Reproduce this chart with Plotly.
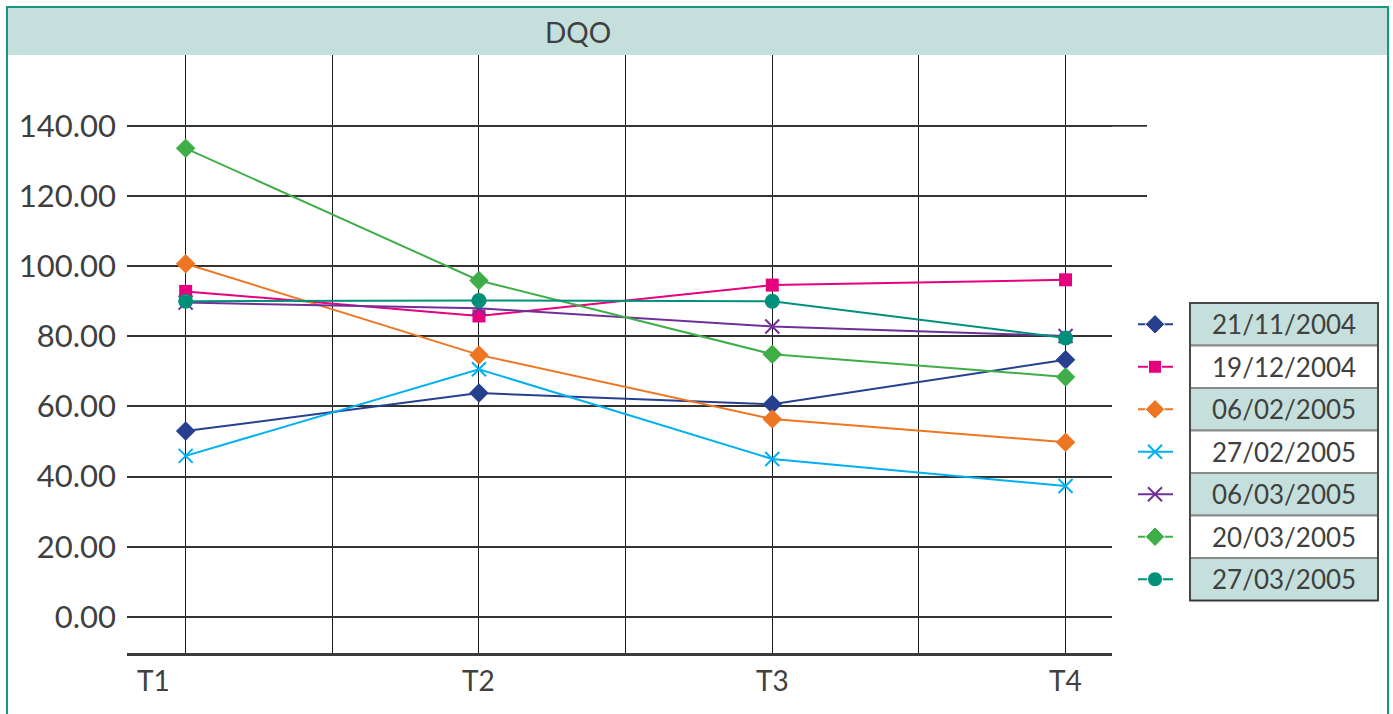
import plotly.graph_objects as go

categories = ["T1", "T2", "T3", "T4"]
series_names = ["21/11/2004", "19/12/2004", "06/02/2005", "27/02/2005",
                "06/03/2005", "20/03/2005", "27/03/2005"]
v_21_11_2004 = [53.0, 63.8, 60.6, 73.3]
v_19_12_2004 = [92.8, 85.8, 94.6, 96.1]
v_06_02_2005 = [100.7, 74.7, 56.4, 49.8]
v_27_02_2005 = [45.9, 70.6, 45.0, 37.3]
v_06_03_2005 = [89.6, 88.0, 82.8, 80.1]
v_20_03_2005 = [133.6, 95.9, 74.9, 68.4]
v_27_03_2005 = [90.0, 90.2, 90.0, 79.5]
series_values = [v_21_11_2004, v_19_12_2004, v_06_02_2005, v_27_02_2005,
                 v_06_03_2005, v_20_03_2005, v_27_03_2005]
y_ticks = [0, 20, 40, 60, 80, 100, 120, 140]
extended_grid = [120, 140]

colors = ["#26408f", "#e6007e", "#ee7623", "#00b0f0", "#70309a", "#3fae49", "#00907a"]
symbols = ["diamond", "square", "diamond", "x-thin", "x-thin", "diamond", "circle"]
msizes = [15, 13, 15, 14, 14, 15, 15]

W, H = 1393, 714
ML, MR, MT, MB = 127, 5, 55, 61
PW = W - ML - MR
PH = H - MT - MB


def px_x(p):
    return (p - ML) / PW


def px_y(p):
    return (H - MB - p) / PH


FONT = "Lato, 'Open Sans', sans-serif"
TXT = "#404040"

x_pos = list(range(len(categories)))
PX_PER_CAT = 293.3
x_start = -0.2
x_end = x_start + (1112 - ML) / PX_PER_CAT

fig = go.Figure()
for name, vals, c, s, ms in zip(series_names, series_values, colors, symbols, msizes):
    mk = dict(symbol=s, size=ms, color=c, opacity=1)
    if s.startswith("x"):
        mk["line"] = dict(color=c, width=2)
    fig.add_trace(go.Scatter(x=x_pos, y=vals, mode="lines+markers", name=name,
                             line=dict(color=c, width=2), marker=mk,
                             showlegend=False, xaxis="x", yaxis="y"))

# legend symbols on a pixel-like helper axis
row_top, row_h = 303, 42.5
leg_x0, leg_x1 = 1190, 1378
for i, (c, s, ms) in enumerate(zip(colors, symbols, msizes)):
    yc = row_top + row_h * (i + 0.5)
    mk = dict(symbol=s, size=[0, ms, 0], color=c, opacity=1)
    if s.startswith("x"):
        mk["line"] = dict(color=c, width=2)
    fig.add_trace(go.Scatter(x=[1138, 1155, 1173], y=[yc, yc, yc], mode="lines+markers",
                             line=dict(color=c, width=2), marker=mk,
                             showlegend=False, xaxis="x2", yaxis="y2", hoverinfo="skip"))

shapes = []
annotations = []
# outer frame and title band
shapes.append(dict(type="rect", xref="paper", yref="paper", x0=px_x(8), x1=px_x(1387),
                   y0=px_y(8), y1=px_y(55), fillcolor="#c5e0dc", line=dict(width=0), layer="below"))
shapes.append(dict(type="rect", xref="paper", yref="paper", x0=px_x(7), x1=px_x(1388),
                   y0=px_y(7), y1=px_y(725), fillcolor="rgba(0,0,0,0)",
                   line=dict(color="#14977f", width=2), layer="above"))
# top gridlines continuing past the plot area
for g in extended_grid:
    shapes.append(dict(type="line", xref="paper", yref="y", x0=px_x(1112), x1=px_x(1147),
                       y0=g, y1=g, line=dict(color="#333333", width=1.8), layer="below"))
# legend table
for i, name in enumerate(series_names):
    y0 = row_top + row_h * i
    shapes.append(dict(type="rect", xref="x2", yref="y2", x0=leg_x0, x1=leg_x1,
                       y0=y0, y1=y0 + row_h,
                       fillcolor="#c5e0dc" if i % 2 == 0 else "white",
                       line=dict(color="#8a8a8a", width=2), layer="above"))
    annotations.append(dict(xref="x2", yref="y2", x=(leg_x0 + leg_x1) / 2, y=y0 + row_h / 2,
                            text=name, showarrow=False, yanchor="middle", xanchor="center",
                            font=dict(family=FONT, size=26, color=TXT)))
shapes.append(dict(type="rect", xref="x2", yref="y2", x0=leg_x0, x1=leg_x1,
                   y0=row_top, y1=row_top + row_h * len(series_names),
                   fillcolor="rgba(0,0,0,0)", line=dict(color="#333333", width=1.5), layer="above"))

# title
annotations.append(dict(xref="paper", yref="paper", x=px_x(578), y=px_y(32), text="DQO",
                        showarrow=False, xanchor="center", yanchor="middle",
                        font=dict(family=FONT, size=28, color=TXT)))
# category labels
for i, cat in enumerate(categories):
    annotations.append(dict(xref="x", yref="paper", x=x_pos[i], y=0, yanchor="top",
                            yshift=-8, xshift=-32 if i == 0 else 0, text=cat, showarrow=False,
                            font=dict(family=FONT, size=28, color=TXT)))

fig.update_layout(
    width=W, height=H,
    margin=dict(l=ML, r=MR, t=MT, b=MB),
    paper_bgcolor="white", plot_bgcolor="rgba(0,0,0,0)",
    showlegend=False,
    shapes=shapes, annotations=annotations,
    xaxis=dict(domain=[0, px_x(1112)], range=[x_start, x_end],
               tickvals=[0, 0.5, 1, 1.5, 2, 2.5, 3], ticktext=[""] * 7,
               showgrid=True, gridcolor="#1a1a1a", gridwidth=1.2, zeroline=False,
               showline=True, linecolor="#3a3a3a", linewidth=2.5, ticks="", fixedrange=True),
    yaxis=dict(range=[-10.3, 160.2], tickvals=y_ticks, tickformat=".2f",
               showgrid=True, gridcolor="#333333", gridwidth=1.8, zeroline=False,
               showline=False, ticks="", ticklabelstandoff=10, fixedrange=True,
               tickfont=dict(family=FONT, size=31, color=TXT)),
    xaxis2=dict(domain=[px_x(1130), 1.0], range=[1130, 1388], visible=False,
                anchor="y2", fixedrange=True),
    yaxis2=dict(domain=[0, 1], range=[H - MB, MT], visible=False, anchor="x2", fixedrange=True),
)

fig.write_html("out.html", config={"displayModeBar": False},
               post_script="document.body.style.margin='0px';")
